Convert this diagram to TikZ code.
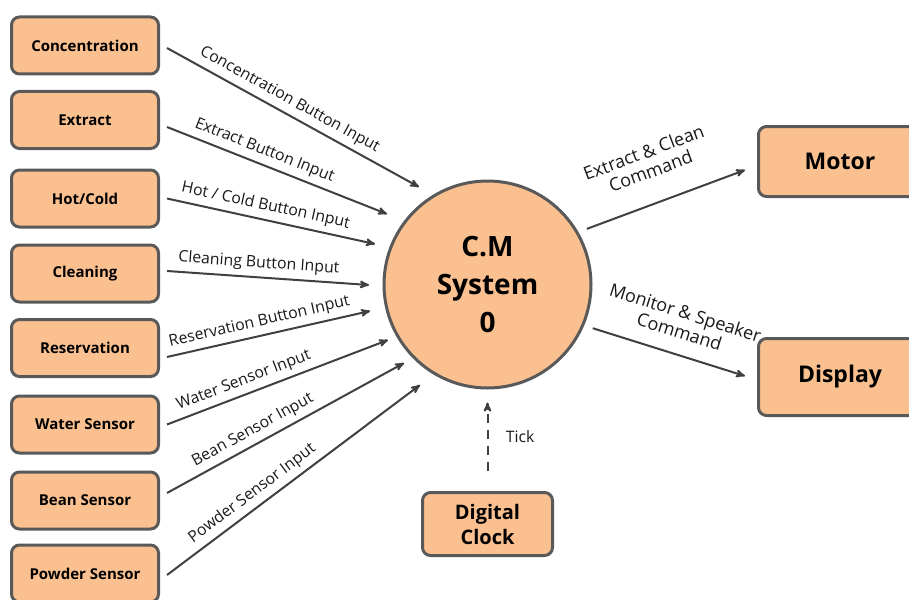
\documentclass[tikz,border=0pt]{standalone}
\usepackage{fontspec}
\setmainfont{Open Sans}
\usetikzlibrary{arrows}

\definecolor{boxfill}{HTML}{FAC090}
\definecolor{boxline}{HTML}{595959}
\definecolor{flowc}{HTML}{404040}

\begin{document}
\begin{tikzpicture}[x=1pt,y=-1pt,>=stealth',
        ext/.style={rectangle,rounded corners=8pt,draw=boxline,fill=boxfill,line width=3pt,
            minimum width=147pt,minimum height=57pt,inner sep=0pt,
            font=\fontsize{15}{18}\selectfont\bfseries},
        sink/.style={ext,minimum width=163pt,font=\fontsize{23}{26}\selectfont\bfseries},
        proc/.style={circle,draw=boxline,fill=boxfill,line width=3pt,minimum size=207pt,
            inner sep=0pt,align=center,font=\fontsize{28}{38}\selectfont\bfseries},
        flow/.style={->,draw=flowc,line width=2pt},
        lbl/.style={font=\fontsize{15.8}{18}\selectfont,text=black!90,inner sep=0pt,above=5pt,sloped},
        cmd/.style={font=\fontsize{18}{20}\selectfont,text=black!90,inner sep=0pt,sloped,align=center}]

  \useasboundingbox (0,0) rectangle (909,599);

  % external entities
  \node[ext] (con) at (85,45.5)  {Concentration};
  \node[ext] (ext) at (85,120)   {Extract};
  \node[ext] (hot) at (85,198.5) {Hot/Cold};
  \node[ext] (cln) at (85,273.5) {Cleaning};
  \node[ext] (res) at (85,348)   {Reservation};
  \node[ext] (wat) at (85,424.5) {Water Sensor};
  \node[ext] (bean) at (85,500.5) {Bean Sensor};
  \node[ext] (pow) at (85,573.5) {Powder Sensor};

  \node[proc] (sys) at (487.5,284.5) {C.M\\System\\0};

  \node[sink,minimum height=70pt] (mot) at (840,161.5) {Motor};
  \node[sink,minimum height=77pt] (dis) at (840,377) {Display};
  \node[ext,minimum width=130pt,minimum height=63pt,align=center,
        font=\fontsize{20}{25}\selectfont\bfseries] (clk) at (487.5,524) {Digital\\Clock};

  % arrow tips in front of the process
  \coordinate (in1) at (419,187);
  \coordinate (in2) at (387,214);
  \coordinate (in3) at (375,244);
  \coordinate (in4) at (369,285);
  \coordinate (in5) at (370,311);
  \coordinate (in6) at (388,340);
  \coordinate (in7) at (404,363);
  \coordinate (in8) at (420,385);

  % inputs
  \draw[flow] ([shift={(7,2.5)}]con.east) -- node[lbl,pos=0.46] {Concentration Button Input} (in1);
  \draw[flow] ([shift={(7,7)}]ext.east) -- node[lbl,pos=0.42] {Extract Button Input} (in2);
  \draw[flow] ([shift={(7,0)}]hot.east) -- node[lbl,pos=0.46] {Hot / Cold Button Input} (in3);
  \draw[flow] ([shift={(7,-2.5)}]cln.east) -- node[lbl,pos=0.45] {Cleaning Button Input} (in4);
  \draw[flow] ([shift={(7,9)}]res.east) -- node[lbl,pos=0.47] {Reservation Button Input} (in5);
  \draw[flow] ([shift={(7,0)}]wat.east) -- node[lbl,pos=0.37] {Water Sensor Input} (in6);
  \draw[flow] ([shift={(7,-7.5)}]bean.east) -- node[lbl,pos=0.39] {Bean Sensor Input} (in7);
  \draw[flow] ([shift={(7,1.5)}]pow.east) -- node[lbl,pos=0.37] {Powder Sensor Input} (in8);

  % outputs
  \draw[flow,shorten <=9pt] (sys.30) -- node[cmd,above=24pt,pos=0.5] {Extract \& Clean\\Command}
        ([shift={(-12,8.5)}]mot.west);
  \draw[flow,shorten <=9pt] (sys.-23.5) -- node[cmd,above=15pt,pos=0.55] {Monitor \& Speaker\\Command}
        ([shift={(-12,-1)}]dis.west);

  % clock
  \draw[flow,dash pattern=on 9pt off 7pt] ([yshift=20pt]clk.north) -- node[right=14pt,
        font=\fontsize{15.8}{18}\selectfont,text=black!90] {Tick} ([yshift=-13pt]sys.south);

\end{tikzpicture}
\end{document}
